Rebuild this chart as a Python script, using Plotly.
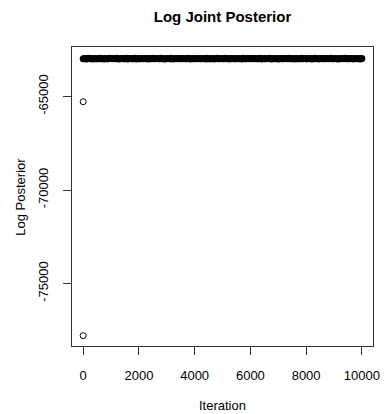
import plotly.graph_objects as go

# MCMC trace of the log joint posterior
burn_iterations = [1, 2]
burn_logpost = [-77790, -65280]

chain_iterations = [3] + list(range(50, 10001, 50))
chain_logpost = [
    -62981,
    -62968, -62991, -62979, -62955, -62984, -62972, -62996, -62963, -62980, -62988,
    -62975, -62959, -62983, -62970, -62992, -62966, -62978, -62985, -62961, -62974,
    -62987, -62969, -62981, -62958, -62976, -62993, -62971, -62964, -62982, -62977,
    -62960, -62989, -62973, -62967, -62985, -62979, -62956, -62990, -62970, -62983,
    -62976, -62962, -62988, -62974, -62981, -62965, -62994, -62972, -62978, -62959,
    -62984, -62971, -62967, -62986, -62975, -62960, -62982, -62977, -62989, -62968,
    -62973, -62980, -62957, -62991, -62970, -62985, -62964, -62978, -62983, -62969,
    -62987, -62963, -62976, -62981, -62958, -62974, -62990, -62966, -62979, -62984,
    -62971, -62988, -62962, -62977, -62985, -62968, -62973, -62993, -62960, -62980,
    -62975, -62982, -62967, -62989, -62972, -62956, -62984, -62978, -62965, -62986,
    -62979, -62961, -62985, -62970, -62992, -62974, -62967, -62983, -62976, -62988,
    -62964, -62981, -62973, -62990, -62958, -62977, -62986, -62969, -62982, -62971,
    -62987, -62966, -62979, -62963, -62984, -62975, -62957, -62991, -62972, -62980,
    -62968, -62985, -62974, -62960, -62989, -62978, -62965, -62983, -62970, -62994,
    -62976, -62962, -62981, -62987, -62969, -62973, -62988, -62959, -62984, -62977,
    -62971, -62990, -62966, -62980, -62975, -62986, -62961, -62982, -62968, -62979,
    -62985, -62972, -62963, -62989, -62976, -62957, -62983, -62970, -62992, -62974,
    -62967, -62981, -62978, -62964, -62988, -62973, -62984, -62960, -62979, -62986,
    -62969, -62975, -62991, -62965, -62982, -62971, -62987, -62958, -62980, -62976,
    -62983, -62962, -62974, -62989, -62970, -62985, -62966, -62978, -62993, -62972,
]

x_tickvals = [0, 2000, 4000, 6000, 8000, 10000]
y_tickvals = [-75000, -70000, -65000]

font_family = "Liberation Sans, Arial, sans-serif"

fig = go.Figure()
# stationary part of the chain: thousands of overlapping open circles form a solid band
fig.add_trace(go.Scatter(
    x=chain_iterations, y=chain_logpost,
    mode="markers",
    marker=dict(symbol="circle-open", size=5, color="black",
                line=dict(width=2, color="black")),
    hoverinfo="x+y", showlegend=False,
))
# first iterations before convergence
fig.add_trace(go.Scatter(
    x=burn_iterations, y=burn_logpost,
    mode="markers",
    marker=dict(symbol="circle-open", size=6, color="black",
                line=dict(width=1, color="black")),
    hoverinfo="x+y", showlegend=False,
))

axis_common = dict(
    showgrid=False, zeroline=False,
    showline=True, linecolor="#333333", linewidth=1, mirror=True,
    ticks="outside", ticklen=8, tickcolor="#333333", tickwidth=1,
    tickfont=dict(family=font_family, size=13, color="black"),
)

fig.update_layout(
    width=389, height=414,
    margin=dict(l=72, r=9, t=47, b=68),
    paper_bgcolor="white", plot_bgcolor="white",
    font=dict(family=font_family, color="black"),
    title=dict(text="<b>Log Joint Posterior</b>", x=0.5, xref="paper",
               y=1 - 17 / 414, yref="container", yanchor="middle",
               font=dict(family=font_family, size=15, color="black")),
    xaxis=dict(range=[-400, 10400], tickvals=x_tickvals,
               ticktext=[str(v) for v in x_tickvals],
               ticklabelstandoff=9, **axis_common),
    yaxis=dict(range=[-78342, -62353], tickvals=y_tickvals,
               ticktext=[str(v) for v in y_tickvals],
               tickangle=-90, ticklabelstandoff=10, **axis_common),
    annotations=[
        dict(text="Iteration", xref="paper", yref="paper", x=0.5, y=-(405 - 346) / 299,
             xanchor="center", yanchor="middle", showarrow=False,
             font=dict(family=font_family, size=13, color="black")),
        dict(text="Log Posterior", xref="paper", yref="paper", x=-(72 - 19) / 308, y=0.5,
             xanchor="center", yanchor="middle", textangle=-90, showarrow=False,
             font=dict(family=font_family, size=13, color="black")),
    ],
)

fig.write_html("out.html")
